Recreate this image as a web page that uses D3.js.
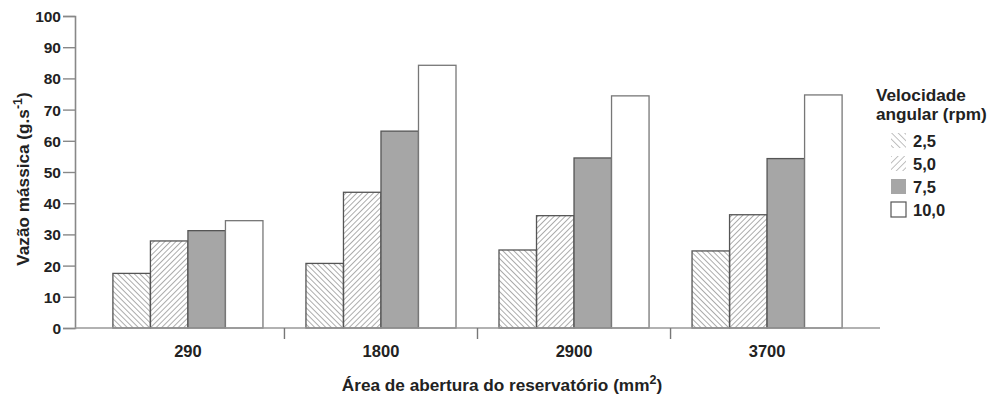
<!DOCTYPE html>
<html>
<head>
<meta charset="utf-8">
<script src="https://cdn.jsdelivr.net/npm/d3@7"></script>
<style>
  body { margin: 0; background: #fff; }
  svg text { font-family: "Liberation Sans", Arial, sans-serif; font-weight: bold; fill: #222; }
</style>
</head>
<body>
<svg id="chart" width="989" height="401"></svg>
<script>
// data
const areas = ['290', '1800', '2900', '3700'];
const speeds = ['2,5', '5,0', '7,5', '10,0'];
const v25 = [17.5, 20.7, 25.0, 24.7];
const v50 = [27.9, 43.5, 36.0, 36.3];
const v75 = [31.2, 63.1, 54.5, 54.3];
const v100 = [34.4, 84.2, 74.4, 74.7];
const yTicks = [0, 10, 20, 30, 40, 50, 60, 70, 80, 90, 100];

const series = [v25, v50, v75, v100];
const fills = ['url(#hatchBack)', 'url(#hatchFwd)', '#a6a6a6', '#fff'];
const strokes = ['#555', '#555', '#555', '#777'];
const legendFills = ['url(#legBack)', 'url(#legFwd)', '#a6a6a6', '#fff'];

const svg = d3.select('#chart');

const plotL = 75, plotR = 880, plotT = 16, plotB = 328;

// hatch patterns
const defs = svg.append('defs');
function hatch(id, angle, gap, color, w) {
  defs.append('pattern')
    .attr('id', id)
    .attr('patternUnits', 'userSpaceOnUse')
    .attr('width', gap).attr('height', gap)
    .attr('patternTransform', `rotate(${angle})`)
    .append('line')
    .attr('x1', 0).attr('y1', 0).attr('x2', 0).attr('y2', gap)
    .attr('stroke', color).attr('stroke-width', w);
}
hatch('hatchBack', -45, 3.9, '#5a5a5a', 1);
hatch('hatchFwd', 45, 3.9, '#5a5a5a', 1);
hatch('legBack', -45, 4.6, '#808080', 1);
hatch('legFwd', 45, 4.6, '#808080', 1);

const x0 = d3.scaleBand()
  .domain(areas)
  .range([plotL, plotR])
  .paddingInner(0)
  .paddingOuter(0.085);

const x1 = d3.scaleBand()
  .domain(speeds)
  .range([0, x0.bandwidth()])
  .paddingInner(0)
  .paddingOuter(0.573);

const y = d3.scaleLinear()
  .domain([0, 100])
  .range([plotB, plotT]);

// bars
const groups = svg.append('g').selectAll('g')
  .data(areas)
  .enter()
  .append('g')
  .attr('transform', (a) => `translate(${x0(a)},0)`);

groups.selectAll('rect')
  .data((a, i) => speeds.map((s, k) => ({ s: s, k: k, v: series[k][i] })))
  .enter()
  .append('rect')
  .attr('x', (d) => x1(d.s))
  .attr('y', (d) => y(d.v))
  .attr('width', x1.bandwidth())
  .attr('height', (d) => plotB - y(d.v))
  .attr('fill', (d) => fills[d.k])
  .attr('stroke', (d) => strokes[d.k])
  .attr('stroke-width', 1.3);

// y axis
const yAxis = svg.append('g')
  .attr('transform', `translate(${plotL},0)`)
  .call(d3.axisLeft(y).tickValues(yTicks).tickSize(12).tickPadding(2));
yAxis.select('.domain').attr('stroke', '#888').attr('stroke-width', 1.6);
yAxis.selectAll('.tick line').attr('stroke', '#888').attr('stroke-width', 1.4);
yAxis.selectAll('.tick text').style('font-size', '15.5px').attr('dy', '0.36em');

// x axis: baseline plus separators between categories
const xAxis = svg.append('g');
xAxis.append('line')
  .attr('x1', plotL).attr('x2', plotR)
  .attr('y1', plotB).attr('y2', plotB)
  .attr('stroke', '#999').attr('stroke-width', 1.6);
xAxis.selectAll('.sep')
  .data(areas.slice(1))
  .enter()
  .append('line')
  .attr('x1', (a) => x0(a)).attr('x2', (a) => x0(a))
  .attr('y1', plotB).attr('y2', plotB + 11)
  .attr('stroke', '#777').attr('stroke-width', 1.4);
xAxis.selectAll('.lab')
  .data(areas)
  .enter()
  .append('text')
  .attr('x', (a) => x0(a) + x0.bandwidth() / 2)
  .attr('y', 357)
  .attr('text-anchor', 'middle')
  .style('font-size', '16.5px')
  .text((a) => a);

// axis titles
const xt = svg.append('text')
  .attr('x', 502)
  .attr('y', 391)
  .attr('text-anchor', 'middle')
  .style('font-size', '17.2px');
xt.append('tspan').text('Área de abertura do reservatório (mm');
xt.append('tspan').attr('dy', -7).style('font-size', '12.5px').text('2');
xt.append('tspan').attr('dy', 7).text(')');

const yt = svg.append('text')
  .attr('transform', 'translate(29,179) rotate(-90)')
  .attr('text-anchor', 'middle')
  .style('font-size', '17.2px');
yt.append('tspan').text('Vazão mássica (g.s');
yt.append('tspan').attr('dy', -7).style('font-size', '12.5px').text('-1');
yt.append('tspan').attr('dy', 7).text(')');

// legend
const legend = svg.append('g');
legend.append('text').attr('x', 876).attr('y', 101).style('font-size', '17.2px').text('Velocidade');
legend.append('text').attr('x', 876).attr('y', 120).style('font-size', '17.2px').text('angular (rpm)');
const items = legend.selectAll('.item')
  .data(speeds)
  .enter()
  .append('g')
  .attr('transform', (s, i) => `translate(891,${133 + i * 23})`);
items.append('rect')
  .attr('width', 15).attr('height', 15)
  .attr('fill', (s, i) => legendFills[i])
  .attr('stroke', (s, i) => i === 3 ? '#555' : 'none')
  .attr('stroke-width', 1.2);
items.append('text')
  .attr('x', 22).attr('y', 14)
  .style('font-size', '16.5px')
  .text((s) => s);
</script>
</body>
</html>
